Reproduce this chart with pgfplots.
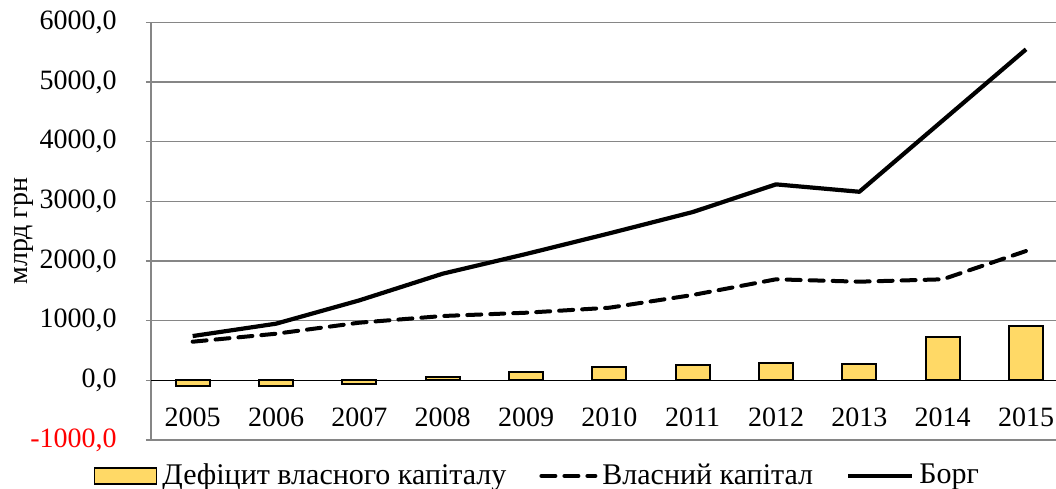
\documentclass[border=0pt]{standalone}
\usepackage{fontspec}
\setmainfont{Liberation Serif}
\usepackage{pgfplots}
\pgfplotsset{compat=1.18}
\definecolor{barcol}{RGB}{255,217,102}
\definecolor{gridgray}{RGB}{134,134,134}
\begin{document}
\fontsize{14}{16}\selectfont
\begin{tikzpicture}
\begin{axis}[
  scale only axis,
  width=458.35pt, height=208.85pt,
  xmin=-0.5, xmax=10.5, ymin=-1000, ymax=6000,
  xtick={0,1,2,3,4,5,6,7,8,9,10},
  xticklabels={2005,2006,2007,2008,2009,2010,2011,2012,2013,2014,2015},
  ytick={-1000,0,1000,2000,3000,4000,5000,6000},
  yticklabels={{\textcolor{red}{-1000,0}},{0,0},{1000,0},{2000,0},{3000,0},{4000,0},{5000,0},{6000,0}},
  xtick pos=bottom, ytick pos=left,
  tick align=outside,
  major tick length=2.5pt,
  major x tick style={draw=none},
  ytick style={gridgray, line width=0.75pt},
  ymajorgrids,
  grid style={gridgray, line width=0.75pt},
  axis line style={gridgray, line width=0.75pt},
  tick label style={font=\fontsize{14}{16}\selectfont},
  yticklabel style={anchor=east, inner sep=0pt, xshift=-14.5pt},
  xticklabel style={anchor=center, inner sep=0pt, yshift=14pt},
  ylabel={млрд грн},
  ylabel style={at={(axis description cs:-0.1385,0.5)}, anchor=center, font=\fontsize{14}{16}\selectfont},
  legend style={at={(0.423,-0.086)}, anchor=center, draw=none, fill=none,
    legend columns=-1, font=\fontsize{15}{17}\selectfont,
    /tikz/every even column/.append style={column sep=14pt},
    nodes={inner sep=2.5pt}},
  legend cell align=left,
]
\addplot[ybar, bar width=17pt, fill=barcol, draw=black, line width=0.9pt,
  legend image code/.code={\draw[fill=barcol, draw=black, line width=0.9pt] (0pt,-4pt) rectangle (31pt,4pt);}]
  coordinates {(0,-100) (1,-90) (2,-55) (3,55) (4,140) (5,228) (6,262) (7,290) (8,268) (9,720) (10,915)};
\addlegendentry{Дефіцит власного капіталу}
\addplot[forget plot, black, line width=0.8pt] coordinates {(-0.5,0) (10.5,0)};
\addplot[black, line width=2pt, line cap=round, dash pattern=on 7pt off 4.5pt,
  legend image code/.code={\draw[black, line width=2pt, line cap=round, dash pattern=on 7pt off 4.5pt] (0pt,0pt) -- (27pt,0pt);}]
  coordinates {(0,647) (1,781) (2,966) (3,1078) (4,1133) (5,1217) (6,1430) (7,1693) (8,1653) (9,1693) (10,2167)};
\addlegendentry{Власний капітал}
\addplot[black, line width=2.1pt, line join=round,
  legend image code/.code={\draw[black, line width=2.1pt] (0pt,0pt) -- (32pt,0pt);}]
  coordinates {(0,742) (1,949) (2,1340) (3,1787) (4,2117) (5,2463) (6,2820) (7,3284) (8,3160) (9,4354) (10,5547)};
\addlegendentry{Борг}
\end{axis}
\pgfresetboundingbox
\path[use as bounding box] ([shift={(-75.5pt,-24pt)}]current axis.south west) rectangle ([shift={(-5.85pt,11.15pt)}]current axis.north east);
\end{tikzpicture}
\end{document}
